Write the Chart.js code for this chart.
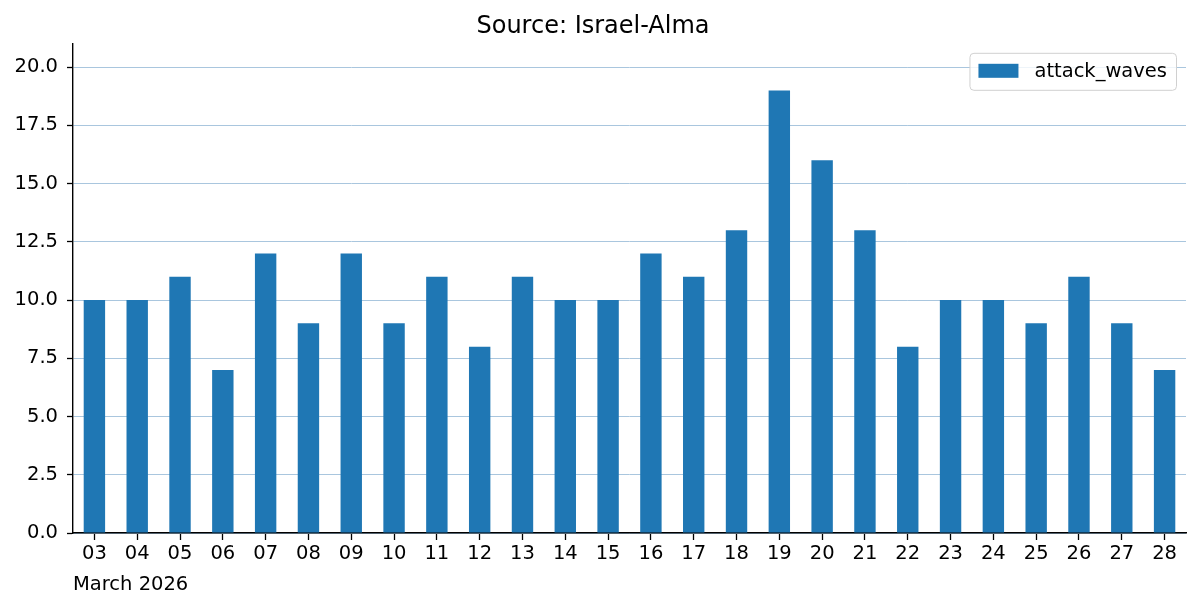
<!DOCTYPE html>
<html>
<head>
<meta charset="utf-8">
<script src="https://cdn.jsdelivr.net/npm/chart.js@4"></script>
<style>
  html, body { margin: 0; padding: 0; background: #fff; }
  #wrap { width: 1200px; height: 609px; }
</style>
</head>
<body>
<div id="wrap"><canvas id="chart" width="1200" height="609"></canvas></div>
<script>
// days of March 2026
const days = ["03", "04", "05", "06", "07", "08", "09", "10", "11", "12", "13", "14", "15",
  "16", "17", "18", "19", "20", "21", "22", "23", "24", "25", "26", "27", "28"];
const attackWaves = [10, 10, 11, 7, 12, 9, 12, 9, 11, 8, 11, 10, 10,
  12, 11, 13, 19, 16, 13, 8, 10, 10, 9, 11, 9, 7];
const seriesName = "attack_waves";
const chartTitle = "Source: Israel-Alma";
const xLabel = "March 2026";

const FONT = "'DejaVu Sans', sans-serif";
const BLUE = "#1f77b4";

// legend drawn inside plot, top-right, with a framed box
const boxLegend = {
  id: "boxLegend",
  afterDraw: (chart) => {
    const { ctx, chartArea } = chart;
    const ds = chart.data.datasets[0];
    ctx.save();
    ctx.font = "19.5px " + FONT;
    const textW = ctx.measureText(ds.label).width;
    const w = 9 + 40 + 16 + textW + 9;
    const h = 37;
    const x = chartArea.right - 10 - w;
    const y = chartArea.top + 9;
    ctx.beginPath();
    ctx.roundRect(x + 0.5, y + 0.5, w, h, 4);
    ctx.fillStyle = "rgba(255,255,255,0.8)";
    ctx.fill();
    ctx.strokeStyle = "#d0d0d0";
    ctx.lineWidth = 1;
    ctx.stroke();
    ctx.fillStyle = ds.backgroundColor;
    ctx.fillRect(x + 9, y + 11, 40, 14);
    ctx.fillStyle = "#000";
    ctx.textBaseline = "middle";
    ctx.fillText(ds.label, x + 9 + 40 + 16, y + h / 2 + 1);
    ctx.restore();
  },
};

new Chart(document.getElementById("chart").getContext("2d"), {
  type: "bar",
  data: {
    labels: days,
    datasets: [
      {
        label: seriesName,
        data: attackWaves,
        backgroundColor: BLUE,
        borderWidth: 0,
        barPercentage: 0.5,
        categoryPercentage: 1.0,
      },
    ],
  },
  options: {
    responsive: false,
    animation: false,
    layout: { padding: { left: 0, right: 14, top: 0, bottom: 0 } },
    scales: {
      x: {
        offset: true,
        grid: { display: true, offset: false, drawOnChartArea: false, tickLength: 7, tickColor: "#000", tickWidth: 1.3 },
        border: { display: true, color: "#000", width: 1.4 },
        ticks: { color: "#000", font: { family: FONT, size: 19.5 }, padding: 2, maxRotation: 0, autoSkip: false },
        title: {
          display: true,
          text: xLabel,
          align: "start",
          color: "#000",
          font: { family: FONT, size: 19.5 },
          padding: { top: 0, bottom: 12 },
        },
        afterFit: (scale) => { scale.height = 76; },
      },
      y: {
        min: 0,
        max: 21,
        ticks: {
          stepSize: 2.5,
          color: "#000",
          font: { family: FONT, size: 19.5 },
          padding: 9,
          callback: (v) => v.toFixed(1),
        },
        afterBuildTicks: (scale) => { scale.ticks = scale.ticks.filter((t) => t.value <= 20); },
        grid: { color: "#a9c6de", lineWidth: 1, tickLength: 6, tickColor: "#000", tickWidth: 1.3 },
        border: { display: true, color: "#000", width: 1.4 },
        afterFit: (scale) => { scale.width = 73; },
      },
    },
    plugins: {
      legend: { display: false },
      tooltip: { enabled: false },
      title: {
        display: true,
        text: chartTitle,
        color: "#000",
        font: { family: FONT, size: 24, weight: "normal" },
        padding: { top: 12, bottom: 3 },
      },
    },
  },
  plugins: [boxLegend],
});
</script>
</body>
</html>
